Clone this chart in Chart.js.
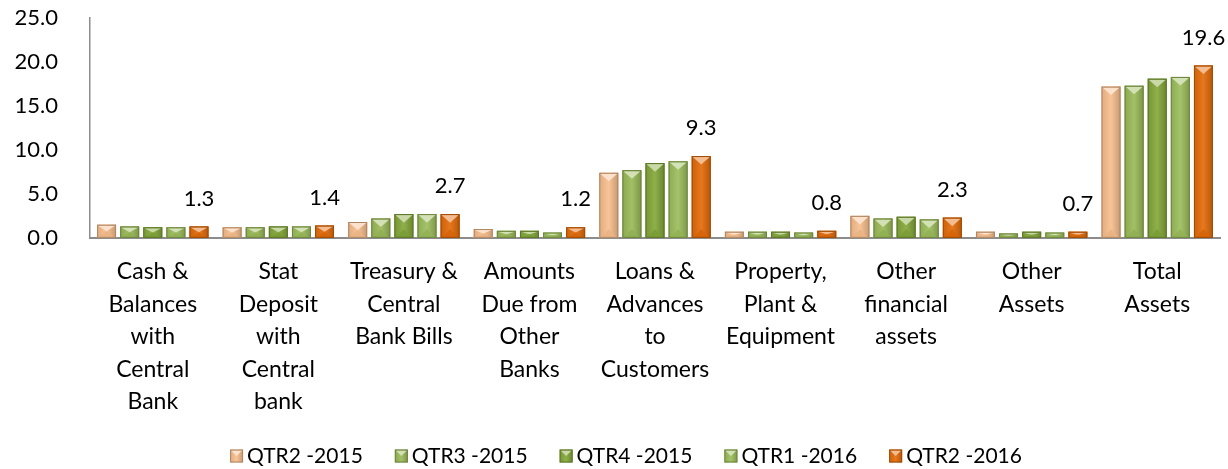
<!DOCTYPE html>
<html>
<head>
<meta charset="utf-8">
<script src="https://cdn.jsdelivr.net/npm/chart.js@4"></script>
<style>
  html, body { margin: 0; padding: 0; background: #fff; }
  #wrap { width: 1228px; height: 469px; }
</style>
</head>
<body>
<div id="wrap"><canvas id="assetsChart" width="1228" height="469"></canvas></div>
<script>
const categories = [
  ['Cash &', 'Balances', 'with', 'Central', 'Bank'],
  ['Stat', 'Deposit', 'with', 'Central', 'bank'],
  ['Treasury &', 'Central', 'Bank Bills'],
  ['Amounts', 'Due from', 'Other', 'Banks'],
  ['Loans &', 'Advances', 'to', 'Customers'],
  ['Property,', 'Plant &', 'Equipment'],
  ['Other', 'financial', 'assets'],
  ['Other', 'Assets'],
  ['Total', 'Assets']
];
const seriesNames = ['QTR2 -2015', 'QTR3 -2015', 'QTR4 -2015', 'QTR1 -2016', 'QTR2 -2016'];
const qtr2_2015 = [1.5, 1.2, 1.8, 1.0, 7.4, 0.7, 2.5, 0.7, 17.2];
const qtr3_2015 = [1.3, 1.2, 2.2, 0.8, 7.7, 0.7, 2.2, 0.5, 17.3];
const qtr4_2015 = [1.2, 1.3, 2.7, 0.8, 8.5, 0.7, 2.4, 0.7, 18.1];
const qtr1_2016 = [1.2, 1.3, 2.7, 0.6, 8.7, 0.6, 2.1, 0.6, 18.3];
const qtr2_2016 = [1.3, 1.4, 2.7, 1.2, 9.3, 0.8, 2.3, 0.7, 19.6];
const yTicks = [0, 5, 10, 15, 20, 25];

const colors = ['#F9BF8E', '#9BBB59', '#84A83A', '#9DBE5C', '#E46C0A'];
const FONT = 'Lato, "Open Sans", sans-serif';

// lighten / darken a hex colour
function shade(hex, amt) {
  const n = parseInt(hex.slice(1), 16);
  let r = (n >> 16) & 255, g = (n >> 8) & 255, b = n & 255;
  const f = c => Math.round(amt >= 0 ? c + (255 - c) * amt : c * (1 + amt));
  return 'rgb(' + f(r) + ',' + f(g) + ',' + f(b) + ')';
}

function bevelBox(ctx, color, x0, top, w, h, t, bottomTri) {
  const x1 = x0 + w, cx = x0 + w / 2, bot = top + h;
  const g = ctx.createLinearGradient(x0, 0, x1, 0);
  g.addColorStop(0, shade(color, -0.1));
  g.addColorStop(0.5, shade(color, 0.08));
  g.addColorStop(1, shade(color, -0.2));
  ctx.fillStyle = g;
  ctx.fillRect(x0, top, w, h);
  ctx.fillStyle = shade(color, 0.55);
  ctx.beginPath();
  ctx.moveTo(x0 + 1, top + 1);
  ctx.lineTo(x1 - 1, top + 1);
  ctx.lineTo(cx, top + t);
  ctx.closePath();
  ctx.fill();
  if (bottomTri) {
    ctx.fillStyle = shade(color, -0.06);
    ctx.beginPath();
    ctx.moveTo(x0 + 1, bot);
    ctx.lineTo(x1 - 1, bot);
    ctx.lineTo(cx, bot - t);
    ctx.closePath();
    ctx.fill();
  }
  ctx.strokeStyle = shade(color, -0.3);
  ctx.lineWidth = 1;
  ctx.strokeRect(x0 + 0.5, top + 0.5, w - 1, h - 1);
}

// bevel look: light triangle on top, darker sides
const bevel = {
  id: 'bevel',
  afterDatasetsDraw(chart) {
    const ctx = chart.ctx;
    chart.data.datasets.forEach((ds, i) => {
      chart.getDatasetMeta(i).data.forEach(bar => {
        const h = bar.base - bar.y;
        ctx.save();
        bevelBox(ctx, colors[i], bar.x - bar.width / 2, bar.y, bar.width, h,
          Math.min(bar.width * 0.45, h / 2), true);
        ctx.restore();
      });
    });
  }
};

// value labels on the last series
const valueLabels = {
  id: 'valueLabels',
  afterDatasetsDraw(chart) {
    const ctx = chart.ctx;
    const last = chart.data.datasets.length - 1;
    const meta = chart.getDatasetMeta(last);
    ctx.save();
    ctx.font = '22px ' + FONT;
    ctx.fillStyle = '#000';
    ctx.textAlign = 'center';
    ctx.textBaseline = 'middle';
    meta.data.forEach((bar, j) => {
      ctx.fillText(chart.data.datasets[last].data[j].toFixed(1), bar.x, bar.y - 28);
    });
    ctx.restore();
  }
};

// y tick labels, right aligned 32px left of the axis
const yLabels = {
  id: 'yLabels',
  afterDraw(chart) {
    const ctx = chart.ctx, y = chart.scales.y;
    ctx.save();
    ctx.font = '22px ' + FONT;
    ctx.fillStyle = '#000';
    ctx.textAlign = 'right';
    ctx.textBaseline = 'middle';
    y.ticks.forEach(t => {
      ctx.fillText(t.value.toFixed(1), chart.chartArea.left - 32, y.getPixelForValue(t.value));
    });
    ctx.restore();
  }
};

// legend drawn in the bottom padding
const bottomLegend = {
  id: 'bottomLegend',
  afterDraw(chart) {
    const ctx = chart.ctx;
    const y = chart.height - 13;
    const box = 13, gap = 4, spacing = 32;
    ctx.save();
    ctx.font = '21px ' + FONT;
    ctx.textBaseline = 'middle';
    const widths = seriesNames.map(s => box + gap + ctx.measureText(s).width);
    const total = widths.reduce((a, b) => a + b, 0) + spacing * (widths.length - 1);
    let x = (chart.width - total) / 2 + 12;
    seriesNames.forEach((name, i) => {
      bevelBox(ctx, colors[i], x, y - box / 2, box, box, box / 2, false);
      ctx.fillStyle = '#000';
      ctx.fillText(name, x + box + gap, y);
      x += widths[i] + spacing;
    });
    ctx.restore();
  }
};

const allSeries = [qtr2_2015, qtr3_2015, qtr4_2015, qtr1_2016, qtr2_2016];

new Chart(document.getElementById('assetsChart'), {
  type: 'bar',
  data: {
    labels: categories,
    datasets: allSeries.map((d, i) => ({
      label: seriesNames[i],
      data: d,
      backgroundColor: colors[i],
      borderWidth: 0,
      categoryPercentage: 0.92,
      barPercentage: 0.82
    }))
  },
  options: {
    responsive: false,
    animation: false,
    layout: { padding: { left: 90, right: 8, top: 18, bottom: 33 } },
    plugins: {
      legend: { display: false },
      tooltip: { enabled: false }
    },
    scales: {
      x: {
        grid: { display: false, drawTicks: false },
        border: { color: '#8c8c8c', width: 2 },
        ticks: {
          font: { family: FONT, size: 23, lineHeight: 1.41 },
          color: '#000',
          padding: 18,
          maxRotation: 0,
          autoSkip: false
        }
      },
      y: {
        min: 0,
        max: 25,
        afterBuildTicks(axis) { axis.ticks = yTicks.map(v => ({ value: v })); },
        afterFit(axis) { axis.paddingTop = 0; axis.paddingBottom = 0; axis.width = 0; },
        grid: { display: false, drawTicks: false },
        border: { color: '#8c8c8c', width: 1.5 },
        ticks: { display: false }
      }
    }
  },
  plugins: [bevel, valueLabels, yLabels, bottomLegend]
});
</script>
</body>
</html>
